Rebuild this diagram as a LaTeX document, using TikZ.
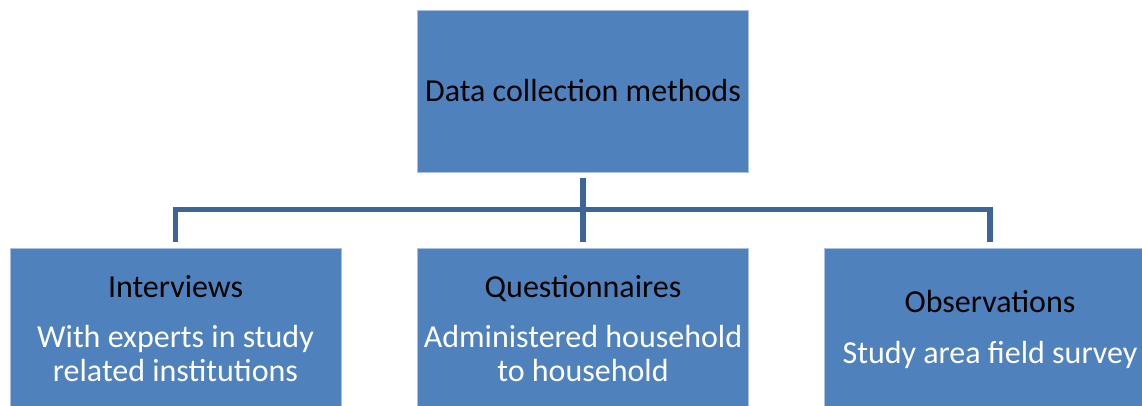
\documentclass[tikz,border=0pt]{standalone}
\usepackage{fontspec}
\setmainfont{Carlito}
\definecolor{boxfill}{HTML}{4F81BD}
\definecolor{boxedge}{HTML}{A9C1E0}
\definecolor{conn}{HTML}{3D6597}
\begin{document}
\begin{tikzpicture}[x=1pt,y=-1pt,
  mbox/.style={draw=boxedge,line width=0.8pt,fill=boxfill,minimum width=331pt,minimum height=162pt,inner sep=0pt,align=center,font=\fontsize{32}{34}\selectfont,text=black},
  conline/.style={draw=conn,line width=5.5pt,line join=miter}]
\useasboundingbox (0,0) rectangle (1142,406);
\clip (0,0) rectangle (1142,406);
\node[mbox] (top) at (583,91) {Data collection methods};
\node[mbox] (left) at (175.5,329) {Interviews\\[16pt]\color{white}With experts in study\\\color{white}related institutions};
\node[mbox] (mid) at (583,329) {Questionnaires\\[16pt]\color{white}Administered household\\\color{white}to household};
\node[mbox] (right) at (990,329) {Observations\\[17pt]\color{white}Study area field survey};
\draw[conline,shorten <=6pt,shorten >=6pt] (top.south) -- (mid.north);
\draw[conline,shorten <=6pt,shorten >=6pt] (left.north) -- ++(0,-38) -| (right.north);
\end{tikzpicture}
\end{document}
